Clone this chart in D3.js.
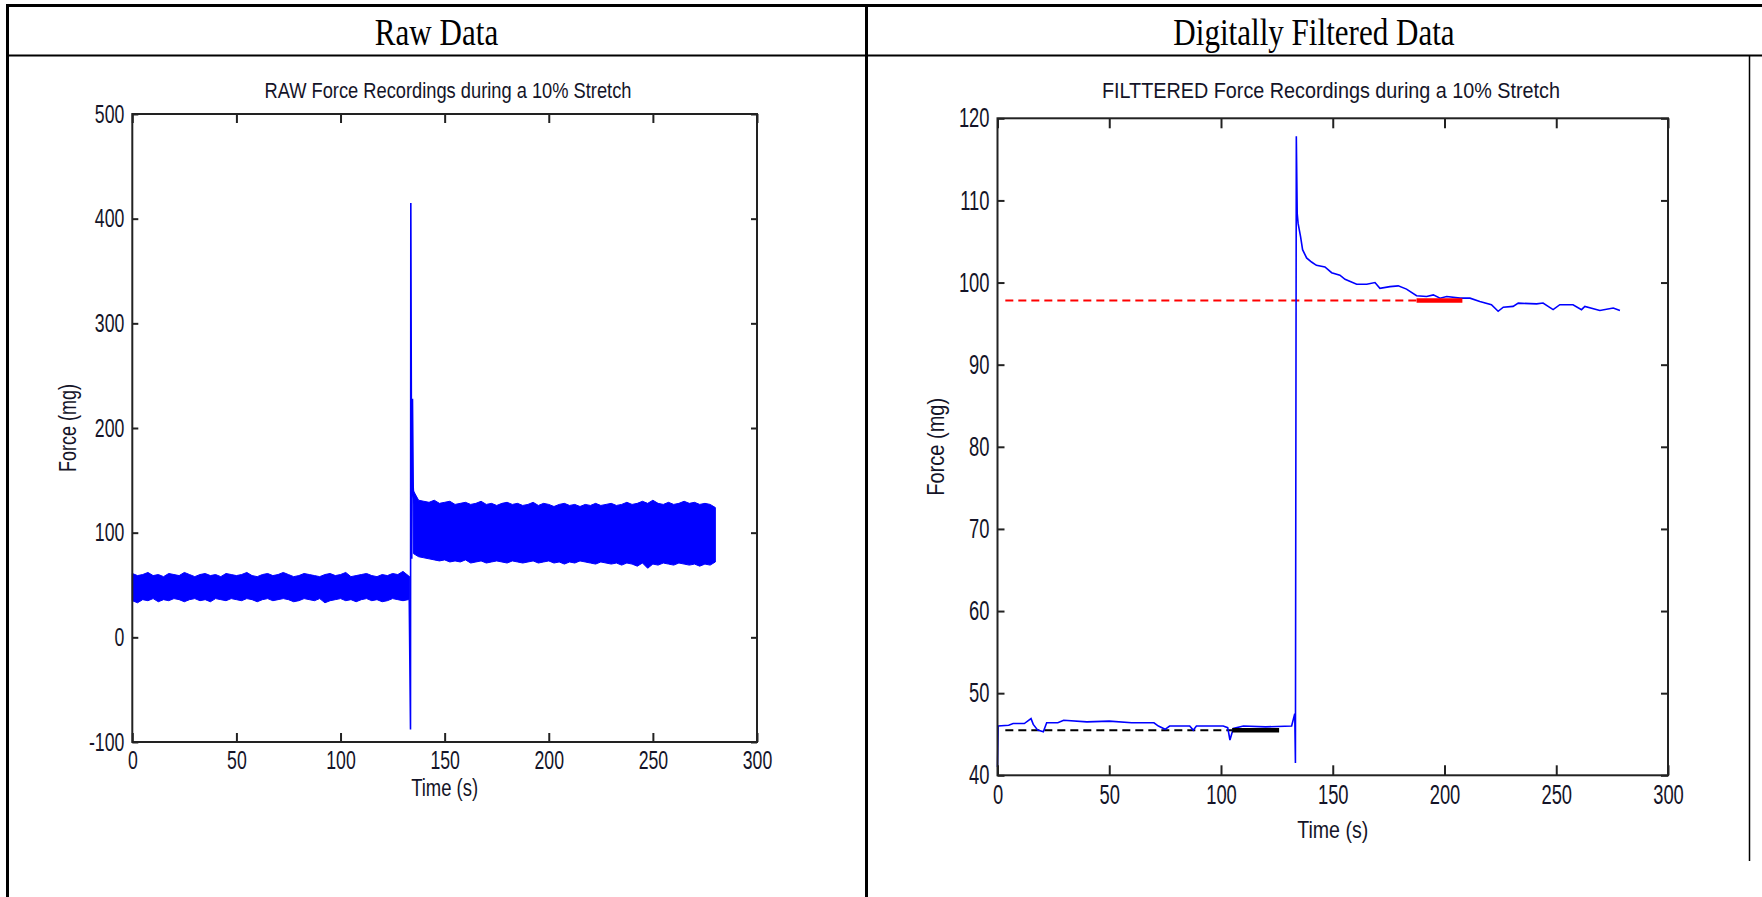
<!DOCTYPE html>
<html>
<head>
<meta charset="utf-8">
<script src="https://cdn.jsdelivr.net/npm/d3@7"></script>
<style>
  body { margin: 0; background: #fff; }
  svg { display: block; }
</style>
</head>
<body>
<svg id="fig" width="1762" height="897"></svg>
<script>
// ---------- Raw recording (dense signal drawn as its min/max envelope) ----------
const rawPreStart = 0, rawPreStep = 2.5;          // seconds, sampling grid of the envelope
const rawPreUpper = [61,59,60,62,59,60,58,61,60,59, 62,60,58,60,61,59,60,58,61,60,
                     59,60,62,59,58,60,61,59,60,62, 60,58,59,61,60,59,58,60,61,59,
                     60,62,58,59,60,61,59,58,60,59, 61,60,63,59];
const rawPreLower = [35,33,36,35,37,34,36,35,37,36, 34,36,37,35,36,34,37,36,35,37,
                     36,35,37,36,34,36,37,35,36,37, 36,34,35,37,36,35,37,33,35,36,
                     37,35,36,34,36,37,35,36,34,35, 37,36,35,36];
const rawPostStart = 135, rawPostStep = 2.5;
const rawPostUpper = [140,131,130,129,131,128,129,130,127,128, 129,127,128,130,127,128,126,128,129,127,
                      128,126,127,129,126,128,127,125,127,128, 126,127,125,127,126,128,126,127,128,126,
                      127,129,127,128,130,128,131,128,127,129, 127,128,130,128,129,127,128,127,124];
const rawPostLower = [80,77,76,75,74,73,74,72,73,72, 74,71,72,73,71,72,73,72,71,73,
                      72,71,72,73,71,72,73,71,72,70, 72,71,73,72,71,70,72,71,70,71,
                      69,71,70,68,71,66,70,69,71,70, 69,71,70,69,70,68,70,69,72];
// stretch transient
const rawSpikeTime = [133.0, 133.6, 133.75, 134.2, 134.55, 134.9, 135.3];
const rawSpikeVals = [36, -88, 415, 75, 228, 143, 128];

// ---------- Filtered recording ----------
const filtTime = [0, 0.3, 5, 7, 12, 15, 16, 18, 20.5, 22, 27, 29.6, 40, 50, 60, 70, 72, 75, 77, 86,
                  87.6, 89, 101, 103, 104, 105.5, 110, 120, 131.6, 133, 133.3, 133.7, 134.1,
                  134.5, 135.6, 136.5, 138.3, 140.5, 142.7, 146.5, 149.5, 153.2, 155.5, 160.7,
                  165.2, 168.9, 171.1, 175.6, 179.3, 183, 187.5, 192, 195, 198, 201, 207, 211.4,
                  215.8, 221, 224, 226.3, 230.7, 233, 241.2, 244.1, 248.6, 251.6, 257.5, 261.3,
                  262.8, 269.5, 275.5, 278.5];
const filtVals = [41, 46.0, 46.1, 46.3, 46.3, 46.9, 46.2, 45.5, 45.3, 46.4, 46.4, 46.7, 46.5, 46.6,
                  46.4, 46.4, 46.0, 45.6, 46.0, 46.0, 45.5, 46.0, 46.0, 45.8, 44.3, 45.7, 46.0,
                  45.9, 46.0, 47.5, 41.5, 117.8, 108.4, 107.2, 105.6, 104.0, 103.0, 102.5, 102.1,
                  101.9, 101.2, 100.9, 100.4, 99.8, 99.8, 100.0, 99.3, 99.5, 99.6, 99.2, 98.4,
                  98.3, 98.5, 98.1, 98.3, 98.1, 98.1, 97.7, 97.3, 96.5, 97.0, 97.1, 97.5, 97.4,
                  97.5, 96.7, 97.3, 97.3, 96.7, 97.1, 96.6, 96.9, 96.6];
// baseline (pre-stretch) and steady-state (post-stretch) reference levels
const baseLevel = 45.5,  baseDashSpan = [3.5, 105],  baseFitSpan = [105, 126];
const steadyLevel = 97.8, steadyDashSpan = [3.5, 187.5], steadyFitSpan = [187.5, 208];

// ---------- Axes ticks and text ----------
const timeTicks = [0, 50, 100, 150, 200, 250, 300];
const rawForceTicks = [-100, 0, 100, 200, 300, 400, 500];
const filtForceTicks = [40, 50, 60, 70, 80, 90, 100, 110, 120];
const headers = ["Raw Data", "Digitally Filtered Data"];
const titles = ["RAW Force Recordings during a 10% Stretch", "FILTTERED Force Recordings during a 10% Stretch"];

const svg = d3.select("#fig");
const SANS = "'Liberation Sans', Arial, Helvetica, sans-serif";
const SERIF = "'Liberation Serif', 'Times New Roman', serif";

// ---------- Table frame ----------
const frame = svg.append("g").attr("stroke", "#000").attr("fill", "none");
frame.append("line").attr("x1", 6).attr("x2", 1762).attr("y1", 5.5).attr("y2", 5.5).attr("stroke-width", 3);
frame.append("line").attr("x1", 6).attr("x2", 1762).attr("y1", 55.5).attr("y2", 55.5).attr("stroke-width", 2);
frame.append("line").attr("x1", 7.5).attr("x2", 7.5).attr("y1", 4).attr("y2", 897).attr("stroke-width", 3);
frame.append("line").attr("x1", 866.5).attr("x2", 866.5).attr("y1", 4).attr("y2", 897).attr("stroke-width", 3);
frame.append("line").attr("x1", 1749.5).attr("x2", 1749.5).attr("y1", 56).attr("y2", 861).attr("stroke-width", 1.5);

const headerCenters = [436.5, 1314];
headers.forEach((h, i) => {
  svg.append("text")
    .attr("transform", `translate(${headerCenters[i]},45) scale(0.84,1)`)
    .attr("text-anchor", "middle")
    .attr("font-family", SERIF).attr("font-size", 37).attr("fill", "#000")
    .text(h);
});

function panel(cfg) {
  const x = d3.scaleLinear().domain([0, 300]).range([cfg.left, cfg.right]);
  const y = d3.scaleLinear().domain(cfg.yDomain).range([cfg.bottom, cfg.top]);
  const g = svg.append("g");

  cfg.draw(g, x, y);

  const fmt = d => String(d);
  const styleLabels = sel => {
    sel.selectAll("text")
      .attr("font-family", SANS).attr("font-size", cfg.tickFont).attr("fill", "#141428");
  };
  // bottom axis with labels
  const bx = g.append("g").attr("transform", `translate(0,${cfg.bottom})`)
    .call(d3.axisBottom(x).tickValues(timeTicks).tickFormat(fmt)
      .tickSizeInner(-cfg.xTickLen).tickSizeOuter(0).tickPadding(cfg.xPad));
  styleLabels(bx);
  bx.selectAll("text").attr("transform", `scale(${cfg.tickSX},1)`);
  // left axis with labels
  const lx = g.append("g").attr("transform", `translate(${cfg.left},0)`)
    .call(d3.axisLeft(y).tickValues(cfg.yTicks).tickFormat(fmt)
      .tickSizeInner(-cfg.yTickLen).tickSizeOuter(0).tickPadding(cfg.yPad));
  styleLabels(lx);
  lx.selectAll("text").attr("x", -cfg.yPad / cfg.tickSX).attr("transform", `scale(${cfg.tickSX},1)`);
  // mirrored ticks on top and right
  g.append("g").attr("transform", `translate(0,${cfg.top})`)
    .call(d3.axisTop(x).tickValues(timeTicks).tickFormat("").tickSizeInner(-cfg.xTickLen).tickSizeOuter(0));
  g.append("g").attr("transform", `translate(${cfg.right},0)`)
    .call(d3.axisRight(y).tickValues(cfg.yTicks).tickFormat("").tickSizeInner(-cfg.yTickLen).tickSizeOuter(0));
  g.selectAll(".domain").remove();
  g.selectAll(".tick line").attr("stroke", "#222").attr("stroke-width", 2);

  // axes box
  g.append("rect")
    .attr("x", cfg.left).attr("y", cfg.top)
    .attr("width", cfg.right - cfg.left).attr("height", cfg.bottom - cfg.top)
    .attr("fill", "none").attr("stroke", "#222").attr("stroke-width", 2);

  // title and axis labels
  g.append("text")
    .attr("x", cfg.titleX).attr("y", 98)
    .attr("text-anchor", "middle")
    .attr("font-family", SANS).attr("font-size", 22).attr("fill", "#141428")
    .attr("textLength", cfg.titleLen).attr("lengthAdjust", "spacingAndGlyphs")
    .text(cfg.title);
  g.append("text")
    .attr("x", (cfg.left + cfg.right) / 2).attr("y", cfg.xLabelY)
    .attr("text-anchor", "middle")
    .attr("font-family", SANS).attr("font-size", cfg.labelFont).attr("fill", "#141428")
    .attr("textLength", cfg.xLabelLen).attr("lengthAdjust", "spacingAndGlyphs")
    .text("Time (s)");
  g.append("text")
    .attr("transform", `translate(${cfg.yLabelX},${(cfg.top + cfg.bottom) / 2}) rotate(-90)`)
    .attr("text-anchor", "middle")
    .attr("font-family", SANS).attr("font-size", cfg.labelFont).attr("fill", "#141428")
    .attr("textLength", cfg.yLabelLen).attr("lengthAdjust", "spacingAndGlyphs")
    .text("Force (mg)");
}

// ---------- Left: raw data ----------
panel({
  left: 132.3, right: 757, top: 114, bottom: 742,
  yDomain: [-100, 500], yTicks: rawForceTicks,
  xTickLen: 9, yTickLen: 6, xPad: 9, yPad: 8, tickFont: 26, tickSX: 0.68,
  title: titles[0], titleX: 448, titleLen: 367,
  xLabelY: 796, xLabelLen: 67, yLabelX: 76, yLabelLen: 88, labelFont: 23,
  draw(g, x, y) {
    const band = d3.area().x(d => x(d.t)).y0(d => y(d.lo)).y1(d => y(d.hi));
    const pre = rawPreUpper.map((v, i) => ({ t: rawPreStart + i * rawPreStep, hi: v, lo: rawPreLower[i] }));
    const post = rawPostUpper.map((v, i) => ({ t: rawPostStart + i * rawPostStep, hi: v, lo: rawPostLower[i] }));
    pre.push({ t: 133.2, hi: 58, lo: 36 });
    [pre, post].forEach(seg => {
      g.append("path").datum(seg).attr("d", band)
        .attr("fill", "#0000ff").attr("stroke", "#0000ff").attr("stroke-width", 1);
    });
    const spike = rawSpikeTime.map((t, i) => [t, rawSpikeVals[i]]);
    g.append("path").datum(spike)
      .attr("d", d3.line().x(d => x(d[0])).y(d => y(d[1])))
      .attr("fill", "none").attr("stroke", "#0000ff").attr("stroke-width", 1.6);
  }
});

// ---------- Right: filtered data ----------
panel({
  left: 997.5, right: 1668, top: 118.3, bottom: 775.3,
  yDomain: [40, 120], yTicks: filtForceTicks,
  xTickLen: 10, yTickLen: 7, xPad: 10, yPad: 8, tickFont: 27, tickSX: 0.68,
  title: titles[1], titleX: 1331, titleLen: 458,
  xLabelY: 838, xLabelLen: 71, yLabelX: 944, yLabelLen: 98, labelFont: 24,
  draw(g, x, y) {
    const hline = (span, lvl) => [[span[0], lvl], [span[1], lvl]];
    const line = d3.line().x(d => x(d[0])).y(d => y(d[1]));
    g.append("path").datum(hline(steadyDashSpan, steadyLevel)).attr("d", line)
      .attr("fill", "none").attr("stroke", "#ff0000").attr("stroke-width", 2).attr("stroke-dasharray", "8,5");
    g.append("path").datum(hline(baseDashSpan, baseLevel)).attr("d", line)
      .attr("fill", "none").attr("stroke", "#000").attr("stroke-width", 2).attr("stroke-dasharray", "8,5");
    g.append("path").datum(filtTime.map((t, i) => [t, filtVals[i]])).attr("d", line)
      .attr("fill", "none").attr("stroke", "#0000ff").attr("stroke-width", 1.6);
    g.append("path").datum(hline(steadyFitSpan, steadyLevel)).attr("d", line)
      .attr("fill", "none").attr("stroke", "#ff0000").attr("stroke-width", 4.5);
    g.append("path").datum(hline(baseFitSpan, baseLevel)).attr("d", line)
      .attr("fill", "none").attr("stroke", "#000").attr("stroke-width", 4.5);
  }
});
</script>
</body>
</html>
